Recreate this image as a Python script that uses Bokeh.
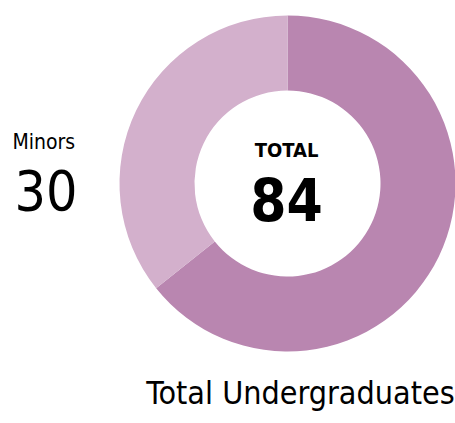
import math
from bokeh.plotting import figure
from bokeh.models import ColumnDataSource
from bokeh.core.properties import value
from bokeh.embed import file_html
from bokeh.resources import INLINE

categories = ["Majors", "Minors"]
counts = [54, 30]
colors = ["#b986b0", "#d3b0cc"]
total_label = "TOTAL"
title_text = "Total Undergraduates"

total = sum(counts)
FONT = "DejaVu Sans Condensed"

W, H = 455, 423
p = figure(width=W, height=H, x_range=(0, W), y_range=(0, H),
           output_backend="svg", toolbar_location=None, min_border=0)
p.axis.visible = False
p.grid.visible = False
p.outline_line_color = None
p.background_fill_color = "white"
p.border_fill_color = "white"

top = math.pi / 2
minors_span = 2 * math.pi * counts[1] / total
majors_span = 2 * math.pi * counts[0] / total
starts = [top + minors_span, top]
ends = [top + minors_span + majors_span, top + minors_span]
src = ColumnDataSource(dict(cat=categories, start=starts, end=ends, color=colors))
cx, cy = 287, H - 183
p.annular_wedge(x=cx, y=cy, inner_radius=93, outer_radius=168,
                start_angle="start", end_angle="end", fill_color="color",
                line_color=None, direction="anticlock", source=src)

p.text(x=[286], y=[H - 149], text=[total_label], text_font=value(FONT), text_font_style="bold",
       text_font_size="20px", text_align="center", text_baseline="alphabetic", text_color="black")
p.text(x=[286], y=[H - 199], text=[str(total)], text_font=value(FONT), text_font_style="bold",
       text_font_size="58px", text_align="center", text_baseline="alphabetic", text_color="black")

p.text(x=[12], y=[H - 141.5], text=[categories[1]], text_font=value(FONT),
       text_font_size="21px", text_align="left", text_baseline="alphabetic", text_color="black")
p.text(x=[14], y=[H - 189], text=[str(counts[1])], text_font=value(FONT),
       text_font_size="55px", text_align="left", text_baseline="alphabetic", text_color="black")

p.text(x=[300], y=[H - 392], text=[title_text], text_font=value(FONT),
       text_font_size="32px", text_align="center", text_baseline="alphabetic", text_color="black")

open("out.html", "w").write(file_html(p, INLINE))
